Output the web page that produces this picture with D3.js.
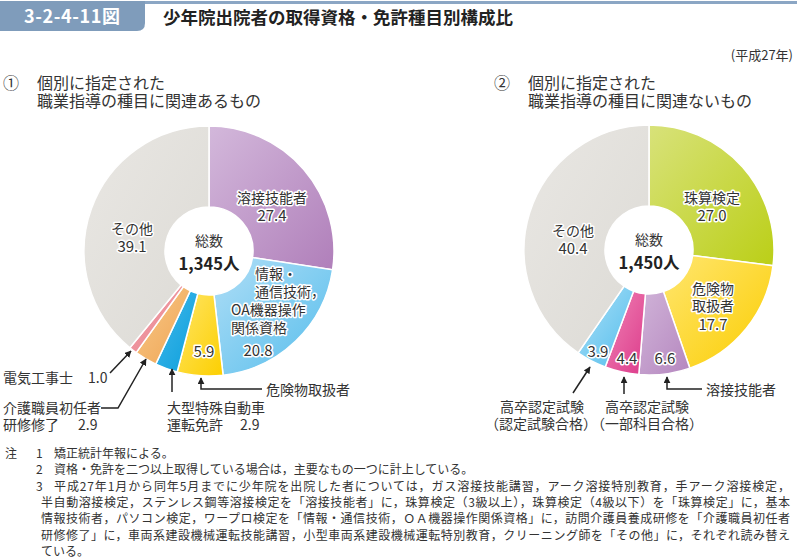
<!DOCTYPE html>
<html><head><meta charset="utf-8">
<script src="https://cdn.jsdelivr.net/npm/d3@7"></script>
<style>
body{margin:0;background:#fff}
svg{display:block}
text{font-family:"Noto Sans CJK JP","Noto Sans",sans-serif;}
</style>
</head><body>
<svg id="c" width="797" height="558"></svg>
<script>
// ---------- data ----------
const leftCategories = ["溶接技能者","情報・通信技術，OA機器操作関係資格","危険物取扱者","大型特殊自動車運転免許","介護職員初任者研修修了","電気工事士","その他"];
const leftValues = [27.4, 20.8, 5.9, 2.9, 2.9, 1.0, 39.1];
const leftTotal = "1,345";
const rightCategories = ["珠算検定","危険物取扱者","溶接技能者","高卒認定試験（一部科目合格）","高卒認定試験（認定試験合格）","その他"];
const rightValues = [27.0, 17.7, 6.6, 4.4, 3.9, 40.4];
const rightTotal = "1,450";
const notes = [
  ["注","1","矯正統計年報による。"],
  ["","2","資格・免許を二つ以上取得している場合は，主要なもの一つに計上している。"],
  ["","3","平成27年1月から同年5月までに少年院を出院した者については，ガス溶接技能講習，アーク溶接特別教育，手アーク溶接検定，"],
  ["","","半自動溶接検定，ステンレス鋼等溶接検定を「溶接技能者」に，珠算検定（3級以上），珠算検定（4級以下）を「珠算検定」に，基本"],
  ["","","情報技術者，パソコン検定，ワープロ検定を「情報・通信技術，ＯＡ機器操作関係資格」に，訪問介護員養成研修を「介護職員初任者"],
  ["","","研修修了」に，車両系建設機械運転技能講習，小型車両系建設機械運転特別教育，クリーニング師を「その他」に，それぞれ読み替え"],
  ["","","ている。"]
];

// ---------- styles / layout ----------
const leftColors = [["#d3b8db","#b07fba"],["#b0def6","#55bdec"],["#ffe566","#fccf00"],["#45b8ea","#0a9fdc"],["#f8c888","#efa554"],["#f3a6ac","#e8808d"],["#e9e7e3","#dcdad5"]];
const rightColors = [["#d8e27a","#bbcf17"],["#ffe670","#fbcd00"],["#d0b3d8","#b587bf"],["#f084b6","#dc3a8a"],["#ade0f7","#52bdec"],["#e9e7e3","#dcdad5"]];

const svg = d3.select("#c");
const defs = svg.append("defs");
defs.append("marker").attr("id","arr").attr("viewBox","0 0 10 10").attr("refX",9).attr("refY",5)
  .attr("markerWidth",7).attr("markerHeight",7).attr("orient","auto-start-reverse").attr("markerUnits","userSpaceOnUse")
  .append("path").attr("d","M0,0L10,5L0,10z").attr("fill","#222");

// multi-line text as one <text> with <tspan>s
function multi(parent, lines, o){
  o = o || {};
  const t = parent.append("text").attr("fill",o.fill||"#333").attr("font-size",o.fs||14)
    .attr("dominant-baseline","central").attr("text-anchor",o.anchor||"start");
  if(o.halo) t.attr("stroke","#fff").attr("stroke-width",3).attr("stroke-linejoin","round").attr("paint-order","stroke");
  lines.forEach(l=>{
    const s = t.append("tspan").attr("x",l.x).attr("y",l.y).text(l.t);
    if(l.fs) s.attr("font-size",l.fs);
    if(l.anchor) s.attr("text-anchor",l.anchor);
    if(l.len) s.attr("textLength",l.len).attr("lengthAdjust","spacing");
  });
  return t;
}

// header
svg.append("rect").attr("x",0).attr("y",1).attr("width",797).attr("height",3).attr("fill","#8ba6c4");
svg.append("path").attr("d","M0,1H145V23Q145,31 137,31H0Z").attr("fill","#7f9cbb");
svg.append("text").attr("x",24).attr("y",23).attr("fill","#fff").attr("font-size",18).attr("font-weight","bold").attr("letter-spacing",0.6).text("3-2-4-11図");
svg.append("text").attr("x",163).attr("y",24).attr("fill","#222").attr("font-size",17.5).attr("font-weight","bold").text("少年院出院者の取得資格・免許種目別構成比");
svg.append("text").attr("x",793).attr("y",60).attr("text-anchor","end").attr("fill","#333").attr("font-size",13).text("(平成27年)");

// subtitles
function subtitle(x, num, l1, l2){
  multi(svg,[{t:num,x:x,y:82},{t:l1,x:x+34,y:82},{t:l2,x:x+34,y:100}],{fs:16});
}
subtitle(3,"①","個別に指定された","職業指導の種目に関連あるもの");
subtitle(494,"②","個別に指定された","職業指導の種目に関連ないもの");

const R = 125, r0 = 44;
const pie = d3.pie().sort(null).value(d=>d);
const arc = d3.arc().innerRadius(r0).outerRadius(R);

function donut(id, cx, cy, cats, vals, colors, total, labels){
  const g = svg.append("g").attr("transform",`translate(${cx},${cy})`);
  const arcs = pie(vals);
  arcs.forEach((a,i)=>{
    const gr = defs.append("linearGradient").attr("id",`${id}g${i}`).attr("x1",0).attr("y1",0).attr("x2",1).attr("y2",1);
    gr.append("stop").attr("offset","0%").attr("stop-color",colors[i][0]);
    gr.append("stop").attr("offset","100%").attr("stop-color",colors[i][1]);
  });
  g.selectAll("path.s").data(arcs).join("path").attr("class","s")
    .attr("d",arc).attr("fill",(d,i)=>`url(#${id}g${i})`).attr("stroke","#fff").attr("stroke-width",1.5)
    .append("title").text((d,i)=>cats[i]+" "+vals[i].toFixed(1));
  multi(g,[{t:"総数",x:0,y:-11},{t:total+"人",x:0,y:12,fs:16.5}],{anchor:"middle"})
    .select("tspan:last-child").attr("font-weight","bold").attr("fill","#222");
  labels.forEach(L=>{
    const lines = L.lines.map(ln=>({
      t: ln.v !== undefined ? vals[L.i].toFixed(1) : ln.t,
      x: ln.x, y: ln.y, anchor: ln.a || "middle", fs: ln.v !== undefined ? 15 : 14
    }));
    multi(g, lines, {halo:true, anchor:"middle"});
  });
  return g;
}

donut("L",209,251,leftCategories,leftValues,leftColors,leftTotal,[
  {i:0, lines:[{t:"溶接技能者",x:63,y:-54},{v:1,x:63,y:-37}]},
  {i:1, lines:[{t:"情報・",x:46,y:22,a:"start"},{t:"通信技術，",x:46,y:40,a:"start"},{t:"OA機器操作",x:22,y:58,a:"start"},{t:"関係資格",x:22,y:76,a:"start"},{v:1,x:49,y:98}]},
  {i:2, lines:[{v:1,x:-5,y:99}]},
  {i:6, lines:[{t:"その他",x:-77,y:-23},{v:1,x:-77,y:-6}]}
]);
donut("R",649,250,rightCategories,rightValues,rightColors,rightTotal,[
  {i:0, lines:[{t:"珠算検定",x:63,y:-53},{v:1,x:63,y:-36}]},
  {i:1, lines:[{t:"危険物",x:64,y:38},{t:"取扱者",x:64,y:55},{v:1,x:64,y:73}]},
  {i:2, lines:[{v:1,x:16,y:107}]},
  {i:3, lines:[{v:1,x:-22,y:107}]},
  {i:4, lines:[{v:1,x:-51,y:100}]},
  {i:5, lines:[{t:"その他",x:-76,y:-20},{v:1,x:-76,y:-3}]}
]);

function arrow(pts){
  svg.append("path").attr("d",d3.line()(pts)).attr("fill","none").attr("stroke","#222").attr("stroke-width",1.5)
    .attr("marker-end","url(#arr)");
}
// left outside labels
multi(svg,[{t:"電気工事士",x:3,y:377},{t:leftValues[5].toFixed(1),x:88,y:377}]);
arrow([[110,373],[131,351]]);
multi(svg,[{t:"介護職員初任者",x:3,y:407},{t:"研修修了",x:3,y:424},{t:leftValues[4].toFixed(1),x:78,y:424}]);
arrow([[101,408],[118,408],[146,359]]);
multi(svg,[{t:"大型特殊自動車",x:167,y:407},{t:"運転免許",x:167,y:424},{t:leftValues[3].toFixed(1),x:240,y:424}]);
arrow([[172,392],[172,369]]);
multi(svg,[{t:"危険物取扱者",x:266,y:389}]);
arrow([[262,389],[201,389],[201,378]]);
// right outside labels
multi(svg,[{t:"高卒認定試験",x:542,y:406},{t:"（認定試験合格）",x:541,y:423}],{anchor:"middle"});
arrow([[573,393],[590,367]]);
multi(svg,[{t:"高卒認定試験",x:647,y:406},{t:"（一部科目合格）",x:647,y:423}],{anchor:"middle"});
arrow([[624,394],[624,377]]);
multi(svg,[{t:"溶接技能者",x:706,y:389}]);
arrow([[702,389],[667,389],[667,377]]);

// notes
const noteLines = [];
notes.forEach((n,k)=>{
  const y = 452 + k*16.3;
  if(n[0]) noteLines.push({t:n[0],x:5,y:y});
  if(n[1]) noteLines.push({t:n[1],x:36,y:y});
  const x = n[1] ? 54 : 41;
  noteLines.push({t:n[2],x:x,y:y,len:(k>=2&&k<=5)?790-x:null});
});
multi(svg, noteLines, {fs:12});
</script>
</body></html>
